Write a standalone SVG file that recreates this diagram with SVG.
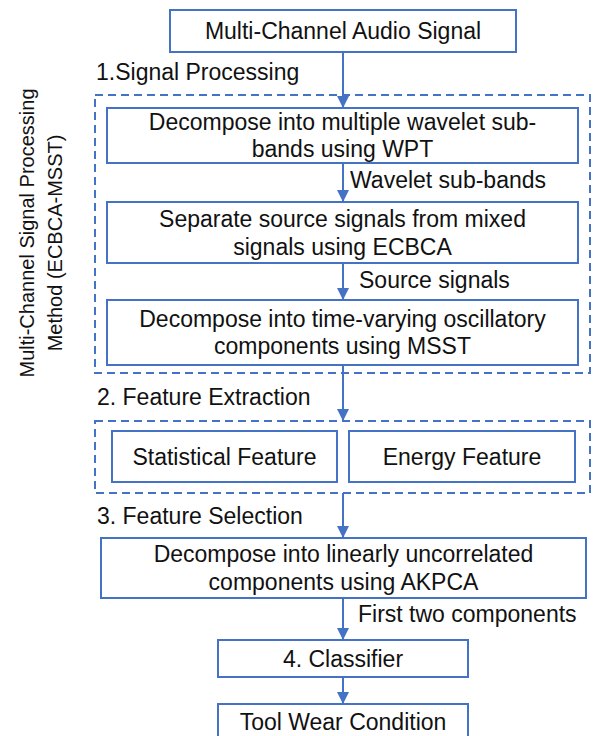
<svg xmlns="http://www.w3.org/2000/svg" width="593" height="736" viewBox="0 0 593 736">
  <style>
    .box { fill: #ffffff; stroke: #4472C4; stroke-width: 2; }
    .group { fill: none; stroke: #4472C4; stroke-width: 2; stroke-dasharray: 8 5; }
    .edge { fill: none; stroke: #4472C4; stroke-width: 2; }
    text { font-family: "Liberation Sans", Arial, sans-serif; font-size: 23px; fill: #111111; }
    .c { text-anchor: middle; }
    .side { font-size: 20px; text-anchor: middle; }
  </style>
  <defs>
    <marker id="arrow" viewBox="0 0 12 12" refX="12" refY="6" markerWidth="12" markerHeight="12" markerUnits="userSpaceOnUse" orient="auto">
      <path d="M0,0 L12,6 L0,12 Z" fill="#4472C4"/>
    </marker>
  </defs>
  <rect width="593" height="736" fill="#ffffff"/>

  <!-- dashed stage groups -->
  <g id="stage-signal-processing">
    <rect class="group" x="95" y="95" width="495" height="278"/>
    <text x="96" y="80">1.Signal Processing</text>
  </g>
  <g id="stage-feature-extraction">
    <rect class="group" x="95" y="421" width="495" height="72"/>
    <text x="97" y="405">2. Feature Extraction</text>
  </g>
  <g id="stage-feature-selection">
    <text x="97" y="524">3. Feature Selection</text>
  </g>
  <g id="method-label">
    <text class="side" transform="translate(34,233) rotate(-90)">Multi-Channel Signal Processing</text>
    <text class="side" transform="translate(62,243) rotate(-90)">Method (ECBCA-MSST)</text>
  </g>

  <!-- connectors -->
  <g id="connectors">
    <line class="edge" x1="343" y1="52" x2="343" y2="108" marker-end="url(#arrow)"/>
    <line class="edge" x1="343" y1="163" x2="343" y2="202" marker-end="url(#arrow)"/>
    <line class="edge" x1="343" y1="263" x2="343" y2="300" marker-end="url(#arrow)"/>
    <line class="edge" x1="343" y1="365" x2="343" y2="421" marker-end="url(#arrow)"/>
    <line class="edge" x1="343" y1="493" x2="343" y2="538" marker-end="url(#arrow)"/>
    <line class="edge" x1="343" y1="598" x2="343" y2="640" marker-end="url(#arrow)"/>
    <line class="edge" x1="343" y1="677" x2="343" y2="704" marker-end="url(#arrow)"/>
    <text x="350" y="188">Wavelet sub-bands</text>
    <text x="359" y="288">Source signals</text>
    <text x="358" y="622">First two components</text>
  </g>

  <!-- nodes -->
  <g id="audio-signal">
    <rect class="box" x="170" y="10" width="346" height="42"/>
    <text class="c" x="343" y="39">Multi-Channel Audio Signal</text>
  </g>
  <g id="wpt">
    <rect class="box" x="107" y="108" width="471" height="55"/>
    <text class="c" x="342.5" y="130">Decompose into multiple wavelet sub-</text>
    <text class="c" x="342.5" y="157">bands using WPT</text>
  </g>
  <g id="ecbca">
    <rect class="box" x="107" y="202" width="471" height="61"/>
    <text class="c" x="342.5" y="227">Separate source signals from mixed</text>
    <text class="c" x="342.5" y="255">signals using ECBCA</text>
  </g>
  <g id="msst">
    <rect class="box" x="107" y="300" width="471" height="65"/>
    <text class="c" x="342.5" y="327">Decompose into time-varying oscillatory</text>
    <text class="c" x="342.5" y="354">components using MSST</text>
  </g>
  <g id="statistical-feature">
    <rect class="box" x="112" y="431" width="225" height="51"/>
    <text class="c" x="224.5" y="465">Statistical Feature</text>
  </g>
  <g id="energy-feature">
    <rect class="box" x="349" y="431" width="226" height="51"/>
    <text class="c" x="462" y="465">Energy Feature</text>
  </g>
  <g id="akpca">
    <rect class="box" x="101" y="538" width="485" height="60"/>
    <text class="c" x="343.5" y="562">Decompose into linearly uncorrelated</text>
    <text class="c" x="343.5" y="590">components using AKPCA</text>
  </g>
  <g id="classifier">
    <rect class="box" x="218" y="640" width="250" height="37"/>
    <text class="c" x="343" y="667">4. Classifier</text>
  </g>
  <g id="tool-wear">
    <rect class="box" x="218" y="704" width="250" height="42"/>
    <text class="c" x="343" y="730">Tool Wear Condition</text>
  </g>
</svg>
